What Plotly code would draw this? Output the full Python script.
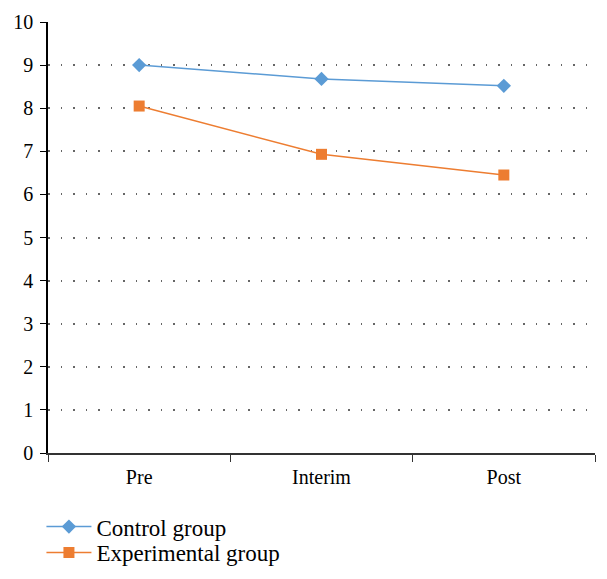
import plotly.graph_objects as go

stages = ["Pre", "Interim", "Post"]
control = [9.0, 8.68, 8.52]
experimental = [8.05, 6.93, 6.45]

fig = go.Figure()
fig.add_trace(go.Scatter(x=stages, y=control, name="Control group", mode="lines+markers",
                         line=dict(color="#5B9BD5", width=1.5), legend="legend", showlegend=True,
                         marker=dict(symbol="diamond", size=11, color="#5B9BD5")))
fig.add_trace(go.Scatter(x=stages, y=experimental, name="Experimental group", mode="lines+markers",
                         line=dict(color="#ED7D31", width=1.5), legend="legend2", showlegend=True,
                         marker=dict(symbol="square", size=11, color="#ED7D31")))

fig.update_xaxes(showline=True, linecolor="#333", linewidth=2, ticks="outside", tickson="boundaries",
                 ticklen=7, tickcolor="#333", showgrid=False, range=[-0.5, 2.5],
                 automargin=False, tickfont=dict(size=20), ticklabelstandoff=5)
fig.update_yaxes(range=[0, 10], dtick=1, showline=True, linecolor="black", linewidth=1.5,
                 ticks="outside", ticklen=6, tickcolor="black", showgrid=True,
                 gridcolor="#666", griddash="1.5px,11px", gridwidth=1.5, zeroline=False,
                 automargin=False, tickfont=dict(size=20), ticklabelstandoff=3)

# page body has an 8px margin, so the figure is shrunk to fit the 607x579 window
leg = dict(x=-0.012, xanchor="left", yanchor="top", font=dict(size=23), itemwidth=45,
           bgcolor="rgba(0,0,0,0)")
fig.update_layout(width=591, height=563, plot_bgcolor="white", paper_bgcolor="white",
                  margin=dict(l=40, r=4, t=14, b=118, autoexpand=False), showlegend=True,
                  font=dict(family="Liberation Serif, Times New Roman, serif", size=20, color="black"),
                  legend=dict(leg, y=-0.121),
                  legend2=dict(leg, y=-0.181))
fig.write_html("out.html")
